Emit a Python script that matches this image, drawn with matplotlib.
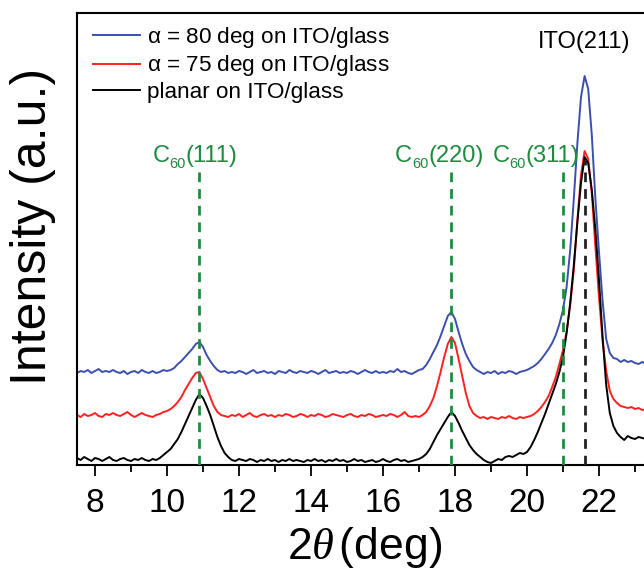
import matplotlib
matplotlib.use("Agg")
import matplotlib.pyplot as plt
from matplotlib.ticker import MultipleLocator
from matplotlib.transforms import offset_copy

plt.rcParams['font.family'] = ['Liberation Sans', 'DejaVu Sans']
plt.rcParams['mathtext.fontset'] = 'custom'
plt.rcParams['mathtext.rm'] = 'Liberation Sans'
plt.rcParams['mathtext.sf'] = 'Liberation Sans'
plt.rcParams['mathtext.it'] = 'Liberation Serif:italic'

# 2-theta sampling (deg)
two_theta = [
    7.5, 7.6, 7.7, 7.8, 7.9, 8.0, 8.1, 8.2, 8.3, 8.4, 8.5, 8.6, 8.7, 8.8, 8.9,
    9.0, 9.1, 9.2, 9.3, 9.4, 9.5, 9.6, 9.7, 9.8, 9.9, 10.0, 10.1, 10.2, 10.3, 10.4,
    10.5, 10.6, 10.7, 10.8, 10.9, 11.0, 11.1, 11.2, 11.3, 11.4, 11.5, 11.6, 11.7, 11.8, 11.9,
    12.0, 12.1, 12.2, 12.3, 12.4, 12.5, 12.6, 12.7, 12.8, 12.9, 13.0, 13.1, 13.2, 13.3, 13.4,
    13.5, 13.6, 13.7, 13.8, 13.9, 14.0, 14.1, 14.2, 14.3, 14.4, 14.5, 14.6, 14.7, 14.8, 14.9,
    15.0, 15.1, 15.2, 15.3, 15.4, 15.5, 15.6, 15.7, 15.8, 15.9, 16.0, 16.1, 16.2, 16.3, 16.4,
    16.5, 16.6, 16.7, 16.8, 16.9, 17.0, 17.1, 17.2, 17.3, 17.4, 17.5, 17.6, 17.7, 17.8, 17.9,
    18.0, 18.1, 18.2, 18.3, 18.4, 18.5, 18.6, 18.7, 18.8, 18.9, 19.0, 19.1, 19.2, 19.3, 19.4,
    19.5, 19.6, 19.7, 19.8, 19.9, 20.0, 20.1, 20.2, 20.3, 20.4, 20.5, 20.6, 20.7, 20.8, 20.9,
    21.0, 21.1, 21.2, 21.3, 21.4, 21.5, 21.6, 21.7, 21.8, 21.9, 22.0, 22.1, 22.2, 22.3, 22.4,
    22.5, 22.6, 22.7, 22.8, 22.9, 23.0, 23.1, 23.2, 23.3,
]

# intensity (a.u.), curves already offset as displayed
alpha80 = [
    92, 94, 93, 95, 92, 94, 96, 93, 94, 93, 95, 93, 92, 94, 91,
    93, 94, 92, 95, 93, 92, 94, 92, 93, 95, 94, 95, 97, 101, 104,
    108, 112, 116, 121, 123, 118, 110, 104, 99, 95, 93, 94, 92, 93, 92,
    94, 93, 91, 93, 95, 92, 93, 94, 92, 93, 91, 94, 93, 92, 95,
    93, 92, 94, 93, 92, 94, 93, 91, 93, 95, 92, 93, 94, 92, 93,
    92, 94, 93, 91, 93, 95, 93, 92, 94, 92, 93, 92, 94, 93, 96,
    93, 94, 92, 91, 93, 95, 96, 100, 106, 113, 120, 129, 139, 149, 153,
    146, 133, 121, 111, 104, 98, 95, 93, 91, 93, 92, 94, 91, 93, 92,
    94, 93, 91, 93, 94, 95, 97, 99, 102, 106, 111, 116, 122, 130, 141,
    155, 178, 215, 266, 322, 368, 389, 376, 330, 266, 213, 164, 126, 112, 107,
    106, 103, 105, 103, 104, 102, 101, 103, 101,
]

alpha75 = [
    50, 48, 51, 49, 50, 52, 49, 48, 51, 50, 52, 50, 49, 51, 53,
    50, 48, 50, 52, 50, 49, 48, 50, 51, 53, 54, 56, 59, 63, 68,
    75, 81, 87, 92, 93, 86, 77, 68, 59, 53, 50, 49, 48, 50, 49,
    51, 48, 50, 52, 49, 48, 50, 51, 49, 50, 48, 50, 49, 51, 50,
    48, 49, 51, 50, 48, 50, 49, 51, 50, 48, 49, 51, 50, 49, 48,
    50, 51, 49, 48, 50, 49, 51, 50, 48, 49, 50, 49, 51, 50, 48,
    50, 53, 49, 48, 49, 48, 50, 53, 59, 67, 79, 93, 108, 121, 128,
    122, 106, 89, 72, 59, 52, 49, 47, 48, 46, 48, 47, 46, 48, 47,
    49, 47, 46, 48, 47, 48, 49, 51, 54, 58, 63, 69, 78, 88, 101,
    115, 133, 160, 195, 245, 290, 314, 306, 272, 218, 168, 124, 94, 74, 66,
    62, 59, 58, 57, 58, 56, 57, 55, 56,
]

planar = [
    7, 5, 8, 6, 4, 7, 6, 4, 6, 8, 5, 4, 6, 7, 5,
    4, 6, 5, 7, 5, 4, 6, 5, 7, 10, 13, 16, 21, 26, 33,
    41, 49, 57, 65, 71, 67, 59, 50, 39, 28, 19, 12, 8, 5, 4,
    6, 5, 4, 6, 5, 3, 5, 4, 6, 4, 5, 3, 5, 4, 6,
    4, 5, 4, 3, 5, 4, 6, 4, 5, 3, 5, 4, 6, 4, 5,
    3, 4, 6, 4, 5, 3, 4, 5, 3, 4, 6, 4, 3, 5, 6,
    4, 5, 3, 4, 5, 6, 8, 11, 16, 23, 30, 36, 42, 48, 53,
    49, 42, 34, 27, 20, 15, 11, 8, 5, 3, 2, 4, 6, 5, 8,
    9, 8, 10, 12, 11, 13, 18, 25, 33, 42, 51, 61, 71, 81, 93,
    108, 132, 162, 200, 243, 282, 308, 302, 275, 235, 185, 128, 80, 52, 39,
    32, 28, 25, 29, 27, 26, 28, 27, 26,
]

series_labels = [r"$\mathrm{\alpha}$ = 80 deg on ITO/glass",
                 r"$\mathrm{\alpha}$ = 75 deg on ITO/glass",
                 "planar on ITO/glass"]
series_colors = ["#3b4fae", "#ff2020", "#000000"]

c60_positions = [10.9, 17.9, 21.0]
c60_miller = ["(111)", "(220)", "(311)"]
c60_label_x = [10.78, 17.56, 20.25]
ito_position = 21.62
ito_label = "ITO(211)"

x_ticks = [8, 10, 12, 14, 16, 18, 20, 22]

W, H = 644, 569
fig = plt.figure(figsize=(W / 100, H / 100), dpi=100)
ax = fig.add_axes([77 / W, 104 / H, 567 / W, 452 / H])

for y, lab, col in zip([alpha80, alpha75, planar], series_labels, series_colors):
    ax.plot(two_theta, y, color=col, lw=1.4, label=lab, zorder=2)

green = "#1e8c3e"
for xp in c60_positions:
    ax.plot([xp, xp], [0, 293], color=green, lw=2.0, ls=(0, (3.5, 2.5)), zorder=3)
ax.plot([ito_position, ito_position], [0, 305], color="#222222", lw=2.0,
        ls=(0, (3.5, 2.5)), zorder=3)

ax.text(21.58, 417, ito_label, color="black", fontsize=17, ha="center", va="baseline")

ax.set_xlim(7.5, 7.5 + 567 / 36)
ax.set_ylim(0, 452)
ax.set_xticks(x_ticks)
ax.xaxis.set_minor_locator(MultipleLocator(1))
ax.set_yticks([])
ax.spines["right"].set_visible(False)
for s in ["left", "bottom", "top"]:
    ax.spines[s].set_linewidth(1.5)
ax.tick_params(axis="x", which="major", direction="out", length=8, width=1.3,
               labelsize=24, pad=8.5)
ax.tick_params(axis="x", which="minor", direction="out", length=5, width=1.3)

# x-axis title, baseline placed as in the reference
fig.text(365 / W, 1 - 559 / H, r"2$\theta\,$(deg)", fontsize=32,
         ha="center", va="baseline")
fig.text(33 / W, 1 - 226 / H, "Intensity (a.u.)", rotation=90, fontsize=36,
         ha="center", va="center")

leg = ax.legend(loc="upper left", bbox_to_anchor=(93 / W, 1 - 25 / H),
                bbox_transform=fig.transFigure, frameon=False, fontsize=16.2,
                handlelength=2.1, handletextpad=0.3, labelspacing=0.15,
                borderpad=0, borderaxespad=0)

# C60 labels: "C" + lowered small "60" + Miller indices, centred as a group
renderer = fig.canvas.get_renderer()
main_fs, sub_fs = 17, 10.5
pt_per_px = 72.0 / fig.dpi


def width_pt(s, fs):
    t = fig.text(0, 0, s, fontsize=fs)
    w = t.get_window_extent(renderer).width * pt_per_px
    t.remove()
    return w


for xl, mi in zip(c60_label_x, c60_miller):
    wc = width_pt("C", main_fs)
    ws = width_pt("60", sub_fs)
    wm = width_pt(mi, main_fs)
    start = -(wc + ws + wm) / 2.0
    parts = [("C", main_fs, start, 0.0),
             ("60", sub_fs, start + wc, -4.5),
             (mi, main_fs, start + wc + ws, 0.0)]
    for s, fs, dx, dy in parts:
        tr = offset_copy(ax.transData, fig=fig, x=dx, y=dy, units="points")
        ax.text(xl, 303, s, color=green, fontsize=fs, ha="left", va="baseline",
                transform=tr)

fig.savefig("out.png", dpi=100)
